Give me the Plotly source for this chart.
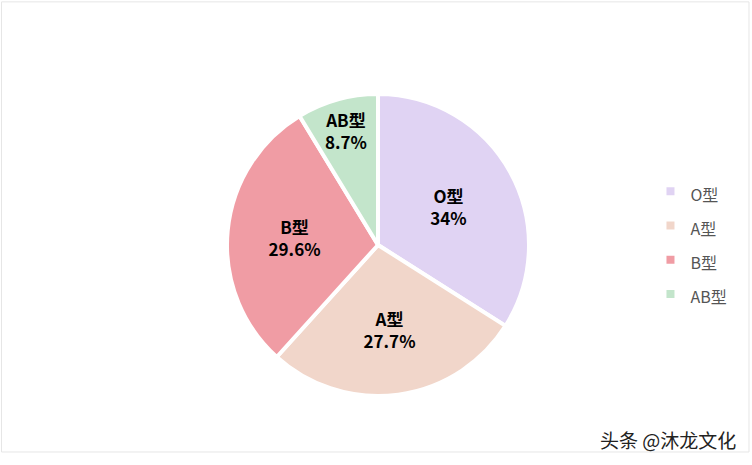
import plotly.graph_objects as go

# blood type share
labels = ["O型", "A型", "B型", "AB型"]
values = [34, 27.7, 29.6, 8.7]
colors = ["#e0d3f3", "#f1d6ca", "#f09ca4", "#c3e5cb"]

# legend spacing comes from the legend font size, the visible text is kept smaller
legend_labels = ['<span style="font-size:16px">%s</span>' % s for s in labels]

fig = go.Figure(go.Pie(
    labels=legend_labels,
    values=values,
    customdata=labels,
    sort=False,
    direction="clockwise",
    rotation=0,
    marker=dict(colors=colors, line=dict(color="white", width=4)),
    texttemplate="<b>%{customdata}<br>%{value}%</b>",
    hovertemplate="%{customdata}: %{value}%<extra></extra>",
    textposition="inside",
    insidetextorientation="horizontal",
    textfont=dict(family="Noto Sans CJK SC", size=17, color="black"),
    domain=dict(x=[227 / 752, 529 / 752], y=[69 / 465, 371 / 465]),
))

fig.update_layout(
    width=752, height=465,
    margin=dict(l=0, r=0, t=0, b=0),
    paper_bgcolor="white",
    showlegend=True,
    legend=dict(
        x=0.865, y=0.478, xanchor="left", yanchor="middle",
        font=dict(family="Noto Sans CJK SC", size=24, color="#555555"),
        itemwidth=30,
    ),
    shapes=[dict(type="rect", xref="paper", yref="paper",
                 x0=0.002, y0=0.028, x1=0.996, y1=0.996,
                 line=dict(color="#e6e6e6", width=1))],
    annotations=[dict(text="头条 @沐龙文化", xref="paper", yref="paper",
                      x=0.982, y=0.054, xanchor="right", yanchor="middle",
                      showarrow=False,
                      font=dict(family="Noto Sans CJK SC", size=19, color="#222"))],
)

fig.write_html("out.html", config={"displayModeBar": False},
               post_script="document.body.style.margin='0';")
